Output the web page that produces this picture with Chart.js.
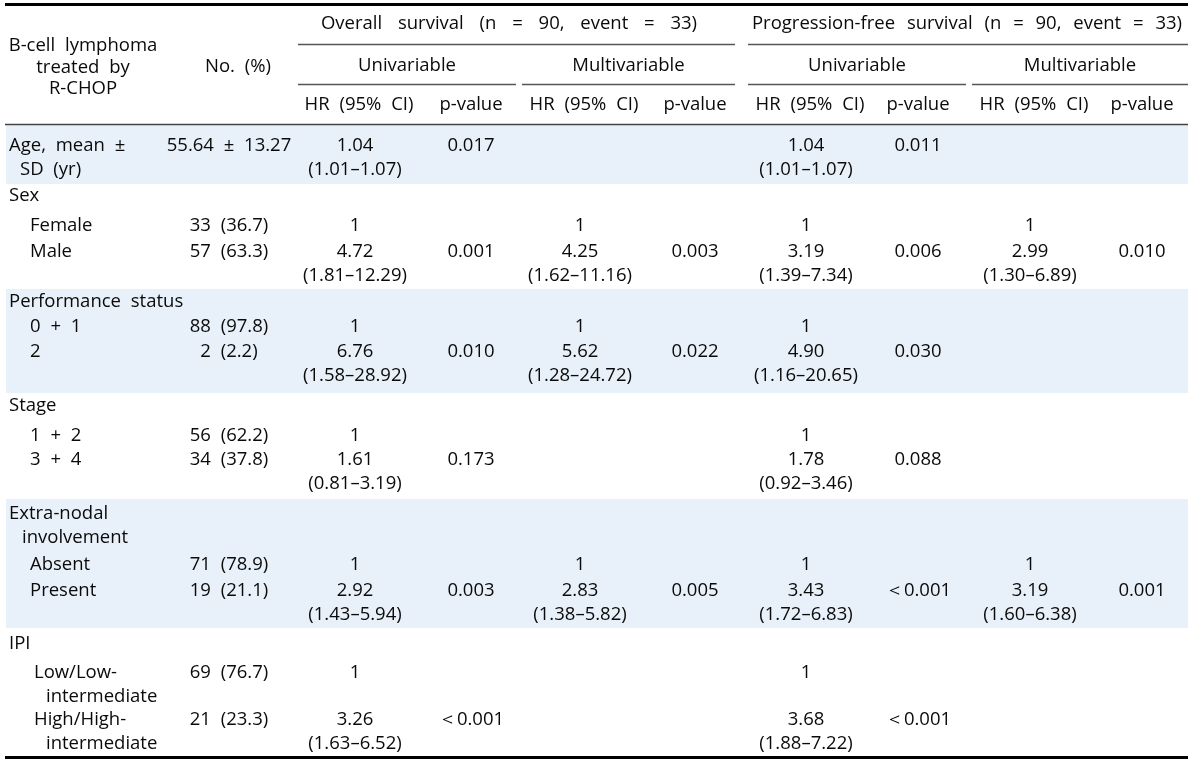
<!DOCTYPE html>
<html>
<head>
<meta charset="utf-8">
<script src="https://cdn.jsdelivr.net/npm/chart.js@4"></script>
<style>
  html, body { margin: 0; padding: 0; background: #fff; }
  #tableChart { display: block; }
</style>
</head>
<body>
<canvas id="tableChart" width="1200" height="764"></canvas>
<script>
// table content, one entry per body row
var rowLabels = ['Age, mean \u00b1\nSD (yr)', 'Sex', 'Female', 'Male', 'Performance status', '0 + 1', '2',
    'Stage', '1 + 2', '3 + 4', 'Extra-nodal\ninvolvement', 'Absent', 'Present', 'IPI',
    'Low/Low-\nintermediate', 'High/High-\nintermediate'];
var rowLevel = [0, 0, 1, 1, 0, 1, 1, 0, 1, 1, 0, 1, 1, 0, 1, 1];
var counts = ['55.64 \u00b1 13.27', '', '33 (36.7)', '57 (63.3)', '', '88 (97.8)', '2 (2.2)', '',
    '56 (62.2)', '34 (37.8)', '', '71 (78.9)', '19 (21.1)', '', '69 (76.7)', '21 (23.3)'];

var osUniHR = ['1.04', '', '1', '4.72', '', '1', '6.76', '', '1', '1.61', '', '1', '2.92', '', '1', '3.26'];
var osUniCI = ['1.01\u20131.07', '', '', '1.81\u201312.29', '', '', '1.58\u201328.92', '', '', '0.81\u20133.19', '', '', '1.43\u20135.94', '', '', '1.63\u20136.52'];
var osUniP = ['0.017', '', '', '0.001', '', '', '0.010', '', '', '0.173', '', '', '0.003', '', '', '\uff1c0.001'];
var osMultiHR = ['', '', '1', '4.25', '', '1', '5.62', '', '', '', '', '1', '2.83', '', '', ''];
var osMultiCI = ['', '', '', '1.62\u201311.16', '', '', '1.28\u201324.72', '', '', '', '', '', '1.38\u20135.82', '', '', ''];
var osMultiP = ['', '', '', '0.003', '', '', '0.022', '', '', '', '', '', '0.005', '', '', ''];

var pfsUniHR = ['1.04', '', '1', '3.19', '', '1', '4.90', '', '1', '1.78', '', '1', '3.43', '', '1', '3.68'];
var pfsUniCI = ['1.01\u20131.07', '', '', '1.39\u20137.34', '', '', '1.16\u201320.65', '', '', '0.92\u20133.46', '', '', '1.72\u20136.83', '', '', '1.88\u20137.22'];
var pfsUniP = ['0.011', '', '', '0.006', '', '', '0.030', '', '', '0.088', '', '', '\uff1c0.001', '', '', '\uff1c0.001'];
var pfsMultiHR = ['', '', '1', '2.99', '', '', '', '', '', '', '', '1', '3.19', '', '', ''];
var pfsMultiCI = ['', '', '', '1.30\u20136.89', '', '', '', '', '', '', '', '', '1.60\u20136.38', '', '', ''];
var pfsMultiP = ['', '', '', '0.010', '', '', '', '', '', '', '', '', '0.001', '', '', ''];

var groupTitles = ['Overall survival (n = 90, event = 33)', 'Progression-free survival (n = 90, event = 33)'];
var subTitles = ['Univariable', 'Multivariable', 'Univariable', 'Multivariable'];

// layout (in scale units = pixels)
var rowY = [146, 196, 226, 252, 302, 327, 352, 406, 436, 460, 514, 565, 591, 644, 673, 720];
var lineGap = 24;
var shaded = [[125, 184], [289, 393], [499, 628]];
var hrX = [355, 580, 806, 1030];
var pX = [471, 695, 918, 1142];
var groupSpan = [[298, 735], [748, 1188]];
var subSpan = [[298, 516], [522, 735], [748, 966], [972, 1188]];
var left = 5, right = 1188;

var FONT = '18.5px "Open Sans"';
var INK = '#0a0a0a';

var tablePlugin = {
    id: 'tableDraw',
    beforeDatasetsDraw: function (chart) {
        var ctx = chart.ctx;
        var xs = chart.scales.x, ys = chart.scales.y;
        var X = function (v) { return xs.getPixelForValue(v); };
        var Y = function (v) { return ys.getPixelForValue(v); };

        ctx.save();
        // row bands
        ctx.fillStyle = '#e8f1f9';
        shaded.forEach(function (b) {
            ctx.fillRect(X(left + 1), Y(b[0]), X(right) - X(left + 1), Y(b[1]) - Y(b[0]));
        });

        // rules
        function hline(x0, x1, y, w, c) {
            ctx.beginPath();
            ctx.lineWidth = w;
            ctx.strokeStyle = c;
            ctx.moveTo(X(x0), Y(y));
            ctx.lineTo(X(x1), Y(y));
            ctx.stroke();
        }
        hline(left, right, 4.5, 3, '#000');
        groupSpan.forEach(function (s) { hline(s[0], s[1], 44.5, 1.3, '#555'); });
        subSpan.forEach(function (s) { hline(s[0], s[1], 84.5, 1.3, '#555'); });
        hline(left, right, 124.5, 1.3, '#444');
        hline(left, right, 757.5, 3, '#000');

        // text
        ctx.font = FONT;
        ctx.fillStyle = INK;
        ctx.textBaseline = 'middle';
        var hasWS = ('wordSpacing' in ctx);
        function spacing(px) { if (hasWS) ctx.wordSpacing = px + 'px'; }
        function txt(s, x, y, align) {
            if (!s) return;
            ctx.textAlign = align || 'center';
            ctx.fillText(s, X(x), Y(y));
        }

        // header
        spacing(11);
        txt(groupTitles[0], 509, 24);
        spacing(7);
        txt(groupTitles[1], (groupSpan[1][0] + groupSpan[1][1]) / 2 - 1, 24);
        spacing(5);
        subTitles.forEach(function (t, i) { txt(t, (subSpan[i][0] + subSpan[i][1]) / 2, 66); });
        for (var k = 0; k < 4; k++) {
            txt('HR (95% CI)', hrX[k] + 4, 105);
            txt('p-value', pX[k], 105);
        }
        txt('B-cell lymphoma', 83, 46);
        txt('treated by', 83, 68);
        txt('R-CHOP', 83, 89);
        txt('No. (%)', 238, 67);

        // body
        var cols = [
            [osUniHR, osUniCI, osUniP],
            [osMultiHR, osMultiCI, osMultiP],
            [pfsUniHR, pfsUniCI, pfsUniP],
            [pfsMultiHR, pfsMultiCI, pfsMultiP]
        ];
        for (var r = 0; r < rowLabels.length; r++) {
            var y = rowY[r];
            var lines = rowLabels[r].split('\n');
            var x0 = rowLevel[r] ? 30 : 9;
            if (rowLevel[r] && lines.length > 1) x0 = 34;
            txt(lines[0], x0, y, 'left');
            if (lines[1]) {
                var x1 = rowLevel[r] ? 46 : (r === 0 ? 20 : 22);
                txt(lines[1], x1, y + lineGap, 'left');
            }
            txt(counts[r], 229, y);
            cols.forEach(function (c, k) {
                txt(c[0][r], hrX[k], y);
                if (c[1][r]) txt('(' + c[1][r] + ')', hrX[k], y + lineGap);
                txt(c[2][r], pX[k], y);
            });
        }
        ctx.restore();
    }
};

var ctx = document.getElementById('tableChart').getContext('2d');
var myChart = new Chart(ctx, {
    type: 'scatter',
    data: { datasets: [{ data: [], pointRadius: 0 }] },
    options: {
        responsive: false,
        animation: false,
        layout: { padding: 0 },
        plugins: { legend: { display: false }, tooltip: { enabled: false } },
        scales: {
            x: { type: 'linear', min: 0, max: 1200, display: false },
            y: { type: 'linear', min: 0, max: 764, reverse: true, display: false }
        }
    },
    plugins: [tablePlugin]
});
</script>
</body>
</html>
